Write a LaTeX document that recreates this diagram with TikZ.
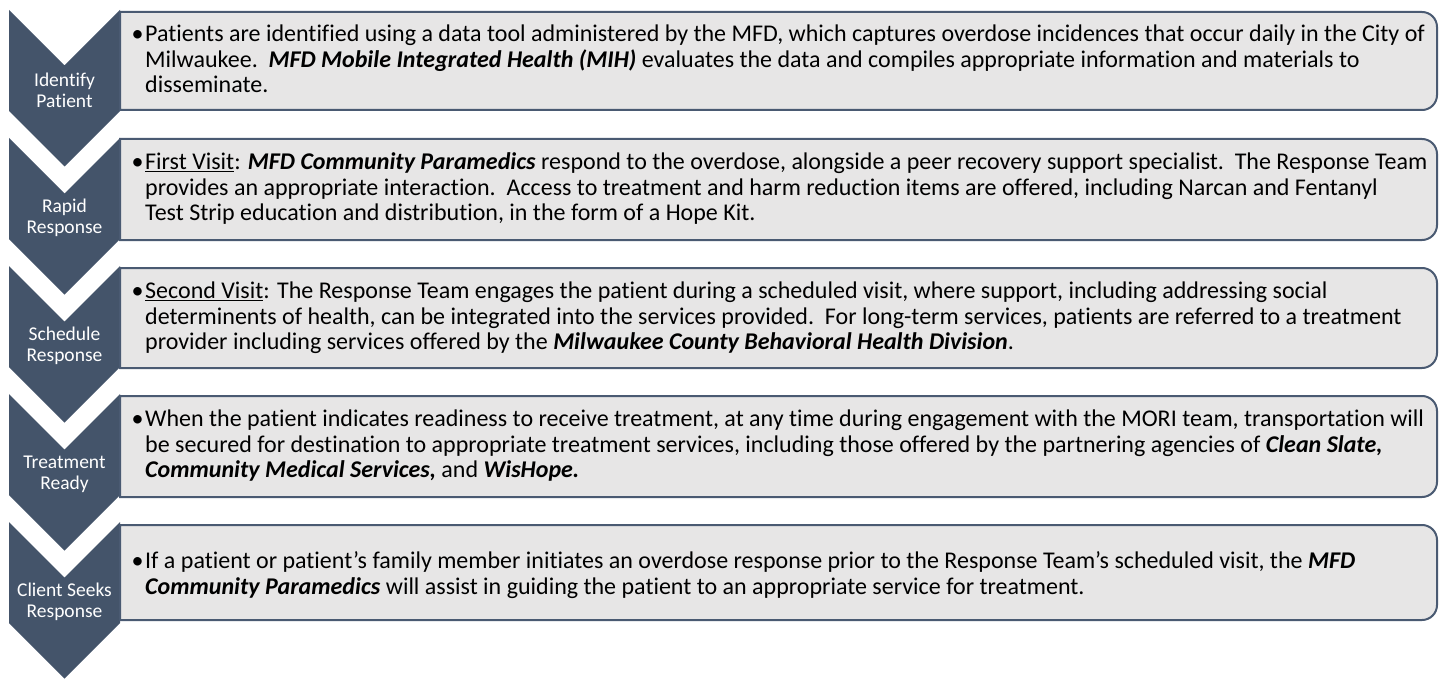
\documentclass[tikz,border=0pt]{standalone}
\usepackage{fontspec}
\setmainfont{Carlito}[Ligatures=NoCommon]
\definecolor{chevfill}{HTML}{44546A}
\definecolor{boxfill}{HTML}{E7E6E6}
\definecolor{boxline}{HTML}{4A5A72}
\newcommand\maintext{\fontsize{24}{25.5}\selectfont}
\newcommand\labeltext{\fontsize{19.5}{21}\selectfont}
\newcommand\bul{\llap{•\hspace{1.5pt}}}
\newcommand\bi[1]{\textbf{\textit{#1}}}
\tikzset{
  chevshape/.style={fill=chevfill, draw=none},
  panel/.style={fill=boxfill, draw=boxline, line width=2pt},
  chevlabel/.style={text=white, align=center, font=\labeltext, inner sep=0pt},
  paneltext/.style={anchor=west, align=left, font=\maintext, inner sep=0pt, text=black},
}
\newcommand\chevron[1]{%
  \fill[chevshape] (9,#1) -- (64.5,#1+55.5) -- (120,#1) -- (120,#1+101) -- (64.5,#1+156.5) -- (9,#1+101) -- cycle;}
\newcommand\panelbox[2]{%
  \draw[panel] (120,#1) -- (1422,#1) arc[start angle=-90,end angle=0,radius=15] -- (1437,#2-15) arc[start angle=0,end angle=90,radius=15] -- (120,#2) -- cycle;}
\begin{document}
\begin{tikzpicture}[x=1pt,y=-1pt]
\useasboundingbox (0,0) rectangle (1450,679);
% chevrons
\chevron{10}
\chevron{138}
\chevron{266}
\chevron{394}
\chevron{522}
% labels
\node[chevlabel] (l1) at (64.5,90) {Identify\\Patient};
\node[chevlabel] (l2) at (64.5,218) {Rapid\\Response};
\node[chevlabel] (l3) at (64.5,346) {Schedule\\Response};
\node[chevlabel] (l4) at (64.5,474) {Treatment\\Ready};
\node[chevlabel] (l5) at (64.5,602) {Client Seeks\\Response};
% panels
\panelbox{12}{110}
\panelbox{139}{240}
\panelbox{268}{368}
\panelbox{396}{497}
\panelbox{525}{620}
% texts
\node[paneltext] (t1) at (145,59) {\bul Patients are identified using a data tool administered by the MFD, which captures overdose incidences that occur daily in the City of\\
Milwaukee.\ \ \bi{MFD Mobile Integrated Health (MIH)} evaluates the data and compiles appropriate information and materials to\\
disseminate.};
\node[paneltext] (t2) at (145,189) {\bul\underline{First Visit}: \bi{MFD Community Paramedics} respond to the overdose, alongside a peer recovery support specialist.\ \ The Response Team\\
provides an appropriate interaction.\ \ Access to treatment and harm reduction items are offered, including Narcan and Fentanyl\\
Test Strip education and distribution, in the form of a Hope Kit.};
\node[paneltext] (t3) at (145,318) {\bul\underline{Second Visit}: The Response Team engages the patient during a scheduled visit, where support, including addressing social\\
determinents of health, can be integrated into the services provided.\ \ For long-term services, patients are referred to a treatment\\
provider including services offered by the \bi{Milwaukee County Behavioral Health Division}.};
\node[paneltext] (t4) at (145,446) {\bul When the patient indicates readiness to receive treatment, at any time during engagement with the MORI team, transportation will\\
be secured for destination to appropriate treatment services, including those offered by the partnering agencies of \bi{Clean Slate,}\\
\bi{Community Medical Services,} and \bi{WisHope.}};
\node[paneltext] (t5) at (145,575) {\bul If a patient or patient's family member initiates an overdose response prior to the Response Team's scheduled visit, the \bi{MFD}\\
\bi{Community Paramedics} will assist in guiding the patient to an appropriate service for treatment.};
\end{tikzpicture}
\end{document}
